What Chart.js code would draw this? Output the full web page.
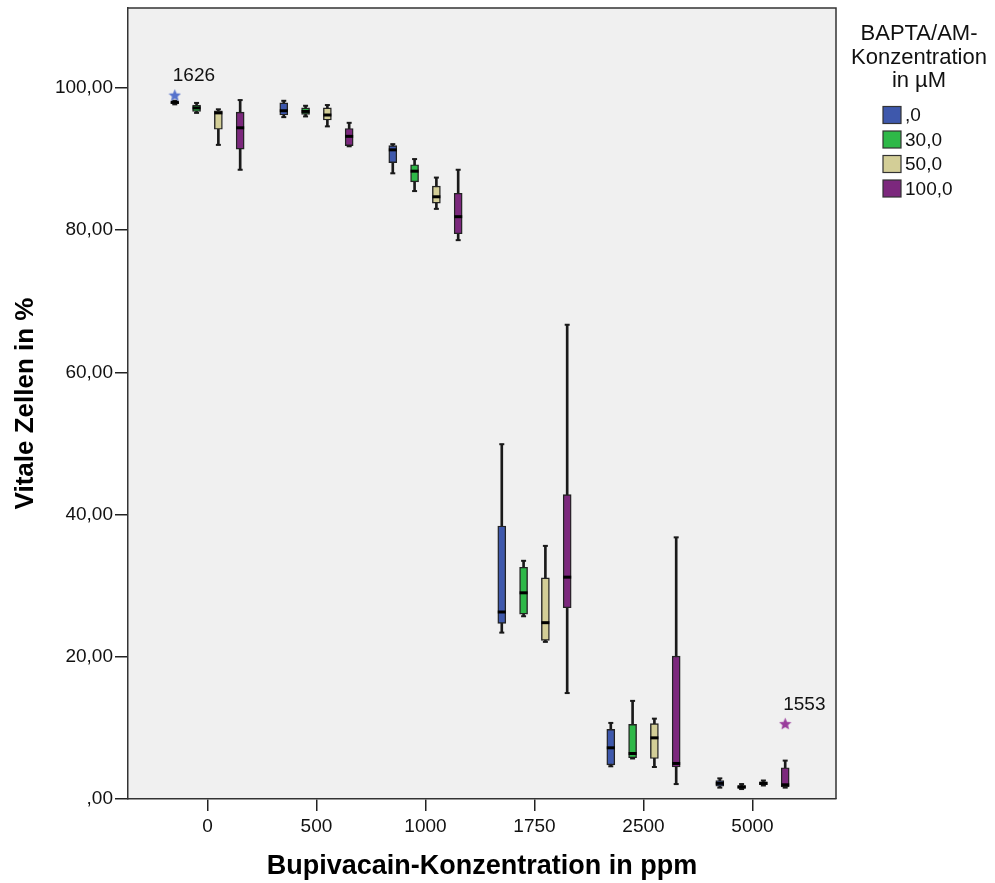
<!DOCTYPE html>
<html lang="de">
<head>
<meta charset="utf-8">
<title>Vitale Zellen nach Bupivacain- und BAPTA/AM-Konzentration</title>
<script src="https://cdn.jsdelivr.net/npm/chart.js@4.4.1/dist/chart.umd.min.js"></script>
<style>
  html, body { margin: 0; padding: 0; background: #fff; }
  #wrap { width: 995px; height: 883px; }
</style>
</head>
<body>
<div id="wrap"><canvas id="cvBox" width="995" height="883"></canvas></div>
<script>
"use strict";

// x categories: Bupivacain in ppm
const doseLabels = ["0", "500", "1000", "1750", "2500", "5000"];
// series: BAPTA/AM in µM
const baptaLabels = [",0", "30,0", "50,0", "100,0"];
const yTickValues = [0, 20, 40, 60, 80, 100];

// per dose: [min, q1, median, q3, max]  (Vitale Zellen in %)
const bapta0 = [
    [97.7, 97.8, 98.0, 98.1, 98.2],
    [95.9, 96.2, 96.8, 97.9, 98.2],
    [88.0, 89.5, 91.3, 91.9, 92.1],
    [23.4, 24.7, 26.3, 38.4, 49.9],
    [4.6, 4.8, 7.2, 9.8, 10.7],
    [1.6, 1.8, 2.2, 2.6, 2.9]
];
const bapta30 = [
    [96.5, 96.7, 97.2, 97.6, 97.9],
    [96.0, 96.3, 96.7, 97.2, 97.5],
    [85.5, 86.8, 88.3, 89.2, 90.0],
    [25.7, 26.0, 29.0, 32.6, 33.5],
    [5.7, 5.8, 6.4, 10.5, 13.8],
    [1.4, 1.5, 1.7, 1.9, 2.1]
];
const bapta50 = [
    [92.0, 94.2, 96.5, 96.8, 97.0],
    [94.6, 95.5, 96.2, 97.2, 97.6],
    [83.0, 83.8, 84.7, 86.2, 87.4],
    [22.1, 22.3, 24.8, 31.1, 35.6],
    [4.5, 5.7, 8.6, 10.6, 11.3],
    [1.9, 2.0, 2.2, 2.4, 2.6]
];
const bapta100 = [
    [88.5, 91.4, 94.4, 96.6, 98.3],
    [91.8, 91.9, 93.2, 94.3, 95.1],
    [78.6, 79.5, 81.9, 85.2, 88.5],
    [14.9, 26.9, 31.2, 42.8, 66.7],
    [2.1, 4.5, 5.0, 20.1, 36.8],
    [1.6, 1.7, 2.0, 4.4, 5.4]
];

// extreme values (case numbers)
const outlierSeries = [0, 3];
const outlierDose = [0, 5];
const outlierValue = [99.0, 10.6];
const outlierCase = ["1626", "1553"];

/* ---------------- styles ---------------- */
const FONT = '"Liberation Sans", Arial, Helvetica, sans-serif';
const COLORS = ["#3e58ac", "#2eb848", "#d3ce97", "#7c287d"];
const STAR_COLORS = ["#5572cc", "#9a3c9c"];
const GROUP_OFFSET = [-0.3, -0.1, 0.1, 0.3];
const INK = "#1a1a1a";

Chart.defaults.font.family = FONT;
Chart.defaults.color = "#111";

function makeStar(color, size) {
    const c = document.createElement("canvas");
    c.width = size; c.height = size;
    const g = c.getContext("2d");
    const cx = size / 2, cy = size / 2 + 0.6, R = size / 2, r = R * 0.45;
    g.beginPath();
    for (let k = 0; k < 10; k++) {
        const rad = k % 2 ? r : R;
        const a = -Math.PI / 2 + k * Math.PI / 5;
        g.lineTo(cx + rad * Math.cos(a), cy + rad * Math.sin(a));
    }
    g.closePath();
    g.fillStyle = color;
    g.fill();
    return c;
}

/* ---------------- datasets ---------------- */
const allSeries = [bapta0, bapta30, bapta50, bapta100];
const datasets = [];

allSeries.forEach((series, s) => {
    const xOf = i => i + GROUP_OFFSET[s];
    datasets.push({
        type: "bar",
        label: baptaLabels[s] + " whisker",
        data: series.map((b, i) => ({ x: xOf(i), y: [b[0], b[4]] })),
        backgroundColor: INK,
        barThickness: 2,
        grouped: false,
        order: 4
    });
    datasets.push({
        type: "bar",
        label: baptaLabels[s],
        data: series.map((b, i) => ({ x: xOf(i), y: [b[1], b[3]] })),
        backgroundColor: COLORS[s],
        borderColor: "#222",
        borderWidth: 1.4,
        borderSkipped: false,
        barThickness: 8,
        grouped: false,
        order: 3
    });
    datasets.push({
        type: "scatter",
        label: baptaLabels[s] + " caps",
        data: series.flatMap((b, i) => [{ x: xOf(i), y: b[0] }, { x: xOf(i), y: b[4] }]),
        pointStyle: "line",
        pointRadius: 2.5,
        pointBorderWidth: 2,
        pointBorderColor: INK,
        order: 2
    });
    datasets.push({
        type: "scatter",
        label: baptaLabels[s] + " median",
        data: series.map((b, i) => ({ x: xOf(i), y: b[2] })),
        pointStyle: "line",
        pointRadius: 4,
        pointBorderWidth: 3,
        pointBorderColor: "#000",
        order: 1
    });
});

datasets.push({
    type: "scatter",
    label: "outliers",
    data: outlierValue.map((v, k) => ({ x: outlierDose[k] + GROUP_OFFSET[outlierSeries[k]], y: v })),
    pointStyle: outlierSeries.map((s, k) => makeStar(STAR_COLORS[k], 13)),
    pointRadius: 6,
    order: 0
});

/* ---------------- plugins ---------------- */
const plotFrame = {
    id: "plotFrame",
    beforeDraw(chart) {
        const { ctx, chartArea: a } = chart;
        ctx.save();
        ctx.fillStyle = "#f0f0f0";
        ctx.fillRect(a.left, a.top, a.right - a.left, a.bottom - a.top);
        ctx.restore();
    },
    afterDraw(chart) {
        const { ctx, chartArea: a } = chart;
        ctx.save();
        ctx.strokeStyle = "#333";
        ctx.lineWidth = 1.5;
        ctx.beginPath();
        ctx.moveTo(a.left, a.top);
        ctx.lineTo(a.right, a.top);
        ctx.lineTo(a.right, a.bottom);
        ctx.stroke();
        ctx.restore();
    }
};

const caseLabels = {
    id: "caseLabels",
    afterDatasetsDraw(chart) {
        const meta = chart.getDatasetMeta(chart.data.datasets.length - 1);
        const { ctx } = chart;
        ctx.save();
        ctx.font = "19px " + FONT;
        ctx.fillStyle = "#111";
        ctx.textAlign = "left";
        ctx.textBaseline = "alphabetic";
        meta.data.forEach((el, k) => ctx.fillText(outlierCase[k], el.x - 2, el.y - 14));
        ctx.restore();
    }
};

const sideLegend = {
    id: "sideLegend",
    afterDraw(chart) {
        const { ctx, chartArea: a } = chart;
        const titleLines = ["BAPTA/AM-", "Konzentration", "in µM"];
        ctx.save();
        ctx.fillStyle = "#111";
        ctx.font = "22px " + FONT;
        ctx.textAlign = "center";
        ctx.textBaseline = "middle";
        titleLines.forEach((t, k) => ctx.fillText(t, a.right + 83, 34 + k * 23.5));

        ctx.font = "19px " + FONT;
        ctx.textAlign = "left";
        baptaLabels.forEach((lab, s) => {
            const y = 115 + s * 24.5;
            const x = a.right + 47;
            ctx.fillStyle = COLORS[s];
            ctx.fillRect(x, y - 8.5, 18, 17);
            ctx.strokeStyle = "#333";
            ctx.lineWidth = 1.2;
            ctx.strokeRect(x, y - 8.5, 18, 17);
            ctx.fillStyle = "#111";
            ctx.fillText(lab, x + 22, y + 1);
        });
        ctx.restore();
    }
};

/* ---------------- chart ---------------- */
const fmtY = v => (v === 0 ? ",00" : v.toFixed(2).replace(".", ","));

new Chart(document.getElementById("cvBox"), {
    type: "scatter",
    data: { datasets },
    options: {
        responsive: false,
        animation: false,
        devicePixelRatio: 1,
        events: [],
        layout: { padding: { top: 8, right: 159, left: 0, bottom: 0 } },
        plugins: {
            legend: { display: false },
            tooltip: { enabled: false }
        },
        scales: {
            x: {
                type: "linear",
                min: -0.729,
                max: 5.766,
                offset: false,
                afterBuildTicks: s => { s.ticks = doseLabels.map((_, i) => ({ value: i })); },
                afterFit: s => { s.height = 84; s.paddingLeft = 0; s.paddingRight = 0; },
                ticks: {
                    callback: v => doseLabels[v] ?? "",
                    font: { size: 19 },
                    color: "#111",
                    padding: 4,
                    autoSkip: false,
                    maxRotation: 0
                },
                grid: { drawOnChartArea: false, drawTicks: true, tickLength: 12, color: "#222", lineWidth: 1.5, offset: false },
                border: { display: true, color: "#333", width: 1.5 },
                title: {
                    display: true,
                    text: "Bupivacain-Konzentration in ppm",
                    font: { size: 27, weight: "bold" },
                    color: "#000",
                    padding: { top: 9, bottom: 0 }
                }
            },
            y: {
                type: "linear",
                min: 0,
                max: 111.25,
                afterBuildTicks: s => { s.ticks = yTickValues.map(v => ({ value: v })); },
                afterFit: s => { s.width = 128; s.paddingTop = 0; s.paddingBottom = 0; },
                ticks: {
                    callback: fmtY,
                    font: { size: 19 },
                    color: "#111",
                    padding: 2
                },
                grid: { drawOnChartArea: false, drawTicks: true, tickLength: 13, color: "#222", lineWidth: 1.5 },
                border: { display: true, color: "#333", width: 1.5 },
                title: {
                    display: true,
                    text: "Vitale Zellen in %",
                    font: { size: 26, weight: "bold" },
                    color: "#000",
                    padding: { top: 10, bottom: 0 }
                }
            }
        }
    },
    plugins: [plotFrame, caseLabels, sideLegend]
});
</script>
</body>
</html>
